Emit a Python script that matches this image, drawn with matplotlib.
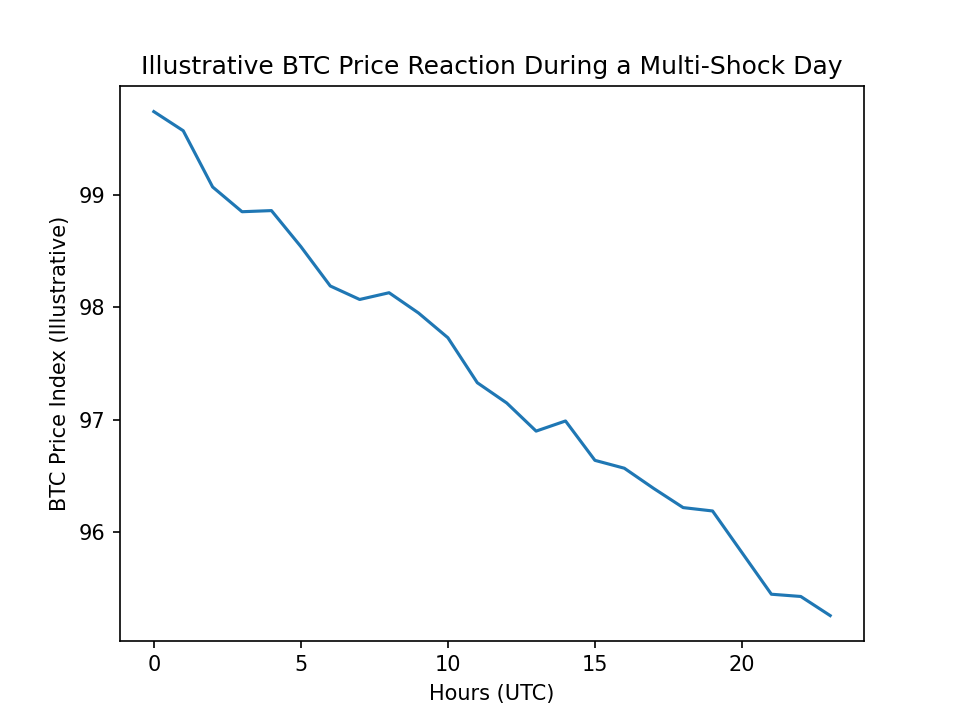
import matplotlib
matplotlib.use('Agg')
import matplotlib.pyplot as plt

hours = list(range(24))
price_index = [99.74, 99.57, 99.07, 98.85, 98.86, 98.54, 98.19, 98.07, 98.13,
               97.95, 97.73, 97.33, 97.15, 96.90, 96.99, 96.64, 96.57, 96.39,
               96.22, 96.19, 95.82, 95.45, 95.43, 95.26]

fig, ax = plt.subplots(figsize=(6.4, 4.8))
ax.plot(hours, price_index)
ax.set_title('Illustrative BTC Price Reaction During a Multi-Shock Day')
ax.set_xlabel('Hours (UTC)')
ax.set_ylabel('BTC Price Index (Illustrative)')
fig.savefig('out.png', dpi=150)
